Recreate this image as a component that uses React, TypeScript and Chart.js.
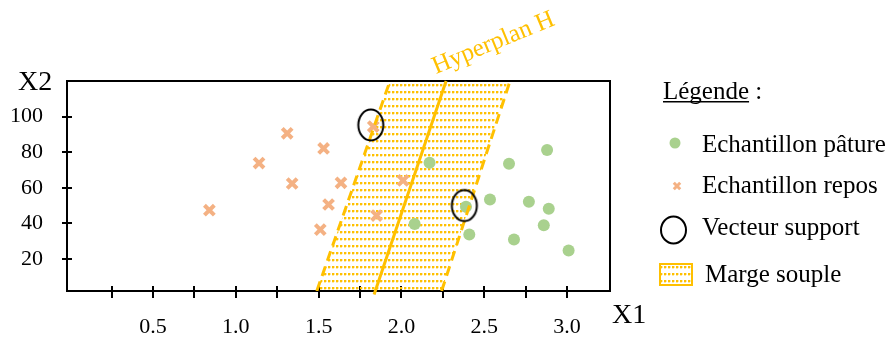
import React, { useEffect, useRef } from 'react';
import { Chart, registerables } from 'chart.js';

Chart.register(...registerables);

// ---- Data ----
const patureX = [2.17, 2.65, 2.88, 2.535, 2.77, 2.89, 2.39, 2.08, 2.41, 2.68, 2.86, 3.01];
const patureY = [74.1, 73.5, 81.2, 53.4, 52.1, 48.2, 49.3, 39.7, 33.7, 30.9, 38.9, 24.7];
const reposX = [0.84, 1.14, 1.31, 1.34, 1.53, 1.635, 1.56, 1.51, 1.83, 2.01, 1.85];
const reposY = [47.4, 73.9, 90.6, 62.4, 82.1, 62.8, 50.6, 36.5, 94.4, 64.1, 44.4];
const supportX = [1.815, 2.38];
const supportY = [95.3, 50.0];
const hyperplanX = [1.835, 2.27];
const hyperplanY = [0, 120];
const margeGaucheX = [1.489, 1.931];
const margeDroiteX = [2.243, 2.656];
const margeY = [2, 120];
const xTicks = [0.25, 0.5, 0.75, 1.0, 1.25, 1.5, 1.75, 2.0, 2.25, 2.5, 2.75, 3.0];
const xTickLabels = ['', '0.5', '', '1.0', '', '1.5', '', '2.0', '', '2.5', '', '3.0'];
const yTicks = [20, 40, 60, 80, 100];
const yTickLabels = ['20', '40', '60', '80', '100'];
const xAxisTitle = 'X1';
const yAxisTitle = 'X2';
const hyperplanLabel = 'Hyperplan H';
const legendTitle = 'Légende';
const legendLabels = ['Echantillon pâture', 'Echantillon repos', 'Vecteur support', 'Marge souple'];

const FONT = '"Liberation Serif", "Times New Roman", serif';
const GOLD = '#FFC000';
const GREEN = '#A9D18E';
const ORANGE = '#F4B183';

function makePattern(): CanvasPattern | string {
  const c = document.createElement('canvas');
  c.width = 4;
  c.height = 7;
  const g = c.getContext('2d')!;
  g.fillStyle = GOLD;
  g.fillRect(0, 0, 2, 2);
  g.globalAlpha = 0.35;
  g.fillRect(2, 0, 1, 2);
  g.fillRect(0, 2, 2, 1);
  const p = g.createPattern(c, 'repeat');
  return p || GOLD;
}

function makeEllipse(): HTMLCanvasElement {
  const c = document.createElement('canvas');
  c.width = 30;
  c.height = 36;
  const g = c.getContext('2d')!;
  g.strokeStyle = '#000';
  g.lineWidth = 2;
  g.beginPath();
  g.ellipse(15, 18, 12.5, 15.5, 0, 0, Math.PI * 2);
  g.stroke();
  return c;
}

export default function App() {
  const ref = useRef<HTMLCanvasElement>(null);

  useEffect(() => {
    document.body.style.margin = '0';
    const canvas = ref.current!;
    const pattern = makePattern();
    const ellipse = makeEllipse();

    const decor = {
      id: 'decor',
      beforeDatasetsDraw(chart: any) {
        const { ctx, chartArea } = chart;
        const xs = chart.scales.x;
        const ys = chart.scales.y;
        ctx.save();
        ctx.strokeStyle = '#000';
        ctx.lineWidth = 2;
        ctx.strokeRect(chartArea.left, chartArea.top, chartArea.right - chartArea.left, chartArea.bottom - chartArea.top);
        ctx.beginPath();
        xTicks.forEach((v) => {
          const px = Math.round(xs.getPixelForValue(v));
          ctx.moveTo(px, chartArea.bottom - 5);
          ctx.lineTo(px, chartArea.bottom + 7);
        });
        yTicks.forEach((v) => {
          const py = Math.round(ys.getPixelForValue(v));
          ctx.moveTo(chartArea.left - 5, py);
          ctx.lineTo(chartArea.left + 5, py);
        });
        ctx.stroke();
        ctx.restore();
      },
      afterDraw(chart: any) {
        const { ctx } = chart;
        ctx.save();
        ctx.fillStyle = '#000';
        ctx.textBaseline = 'alphabetic';
        ctx.textAlign = 'left';
        ctx.font = `28px ${FONT}`;
        ctx.fillText(yAxisTitle, 18, 90);
        ctx.fillText(xAxisTitle, 612, 323);

        // Hyperplan label
        ctx.save();
        ctx.translate(436, 74);
        ctx.rotate((-22.4 * Math.PI) / 180);
        ctx.fillStyle = GOLD;
        ctx.font = `25px ${FONT}`;
        ctx.fillText(hyperplanLabel, 0, 0);
        ctx.restore();

        // Legend
        ctx.font = `25px ${FONT}`;
        ctx.fillStyle = '#000';
        ctx.fillText(legendTitle, 663, 99);
        const tw = ctx.measureText(legendTitle).width;
        ctx.fillText(' :', 663 + tw, 99);
        ctx.fillRect(663, 101, tw, 1.5);

        ctx.fillText(legendLabels[0], 702, 152);
        ctx.fillText(legendLabels[1], 702, 193);
        ctx.fillText(legendLabels[2], 702, 235);
        ctx.fillText(legendLabels[3], 705, 282);

        // markers
        ctx.fillStyle = GREEN;
        ctx.beginPath();
        ctx.arc(675, 143, 5.5, 0, Math.PI * 2);
        ctx.fill();

        ctx.strokeStyle = ORANGE;
        ctx.lineWidth = 3;
        const r = 3.2;
        ctx.beginPath();
        ctx.moveTo(677 - r, 186 - r);
        ctx.lineTo(677 + r, 186 + r);
        ctx.moveTo(677 - r, 186 + r);
        ctx.lineTo(677 + r, 186 - r);
        ctx.stroke();

        ctx.strokeStyle = '#000';
        ctx.lineWidth = 2;
        ctx.beginPath();
        ctx.ellipse(673.5, 230, 12.5, 13.5, 0, 0, Math.PI * 2);
        ctx.stroke();

        ctx.fillStyle = '#fff';
        ctx.fillRect(659, 263, 34, 23);
        ctx.fillStyle = pattern as any;
        ctx.fillRect(659, 263, 34, 23);
        ctx.strokeStyle = GOLD;
        ctx.lineWidth = 2;
        ctx.strokeRect(660, 264, 32, 21);
        ctx.restore();
      },
    };

    const margePoly = [
      { x: margeGaucheX[0], y: margeY[0] },
      { x: margeGaucheX[1], y: margeY[1] },
      { x: margeDroiteX[1], y: margeY[1] },
      { x: margeDroiteX[0], y: margeY[0] },
      { x: margeGaucheX[0], y: margeY[0] },
    ];

    const chart = new Chart(canvas, {
      type: 'scatter',
      data: {
        datasets: [
          {
            type: 'line',
            label: legendLabels[3],
            data: margePoly,
            fill: 'shape',
            backgroundColor: pattern as any,
            borderWidth: 0,
            borderColor: 'rgba(0,0,0,0)',
            pointRadius: 0,
            order: 10,
          } as any,
          {
            type: 'line',
            label: 'marge gauche',
            data: margeGaucheX.map((x, i) => ({ x, y: margeY[i] })),
            borderColor: GOLD,
            borderWidth: 3,
            borderDash: [10, 6],
            pointRadius: 0,
            fill: false,
            order: 2,
          },
          {
            type: 'line',
            label: 'marge droite',
            data: margeDroiteX.map((x, i) => ({ x, y: margeY[i] })),
            borderColor: GOLD,
            borderWidth: 3,
            borderDash: [10, 6],
            pointRadius: 0,
            fill: false,
            order: 2,
          },
          {
            type: 'line',
            label: hyperplanLabel,
            data: hyperplanX.map((x, i) => ({ x, y: hyperplanY[i] })),
            borderColor: GOLD,
            borderWidth: 3,
            pointRadius: 0,
            fill: false,
            clip: false,
            order: 1,
          } as any,
          {
            label: legendLabels[0],
            data: patureX.map((x, i) => ({ x, y: patureY[i] })),
            pointStyle: 'circle',
            pointRadius: 6,
            backgroundColor: GREEN,
            borderWidth: 0,
            order: 5,
          },
          {
            label: legendLabels[1],
            data: reposX.map((x, i) => ({ x, y: reposY[i] })),
            pointStyle: 'crossRot',
            pointRadius: 7,
            borderColor: ORANGE,
            backgroundColor: ORANGE,
            borderWidth: 4,
            order: 4,
          },
          {
            label: legendLabels[2],
            data: supportX.map((x, i) => ({ x, y: supportY[i] })),
            pointStyle: ellipse as any,
            pointRadius: 15,
            order: 0,
          },
        ],
      },
      options: {
        responsive: false,
        animation: false,
        events: [],
        layout: { padding: { top: 81, right: 280, left: 0, bottom: 0 } },
        plugins: { legend: { display: false }, tooltip: { enabled: false } },
        scales: {
          x: {
            type: 'linear',
            position: 'bottom',
            min: -0.02,
            max: 3.26,
            afterBuildTicks: (s: any) => {
              s.ticks = xTicks.map((v) => ({ value: v }));
            },
            afterFit: (s: any) => {
              s.height = 49;
            },
            grid: { display: false, drawTicks: false, tickLength: 0 },
            border: { display: false },
            ticks: {
              autoSkip: false,
              maxRotation: 0,
              minRotation: 0,
              padding: 23,
              color: '#000',
              font: { family: FONT, size: 22 },
              callback: (_v: any, i: number) => xTickLabels[i] ?? '',
            },
          },
          y: {
            type: 'linear',
            position: 'left',
            min: 2,
            max: 120,
            afterBuildTicks: (s: any) => {
              s.ticks = yTicks.map((v) => ({ value: v }));
            },
            afterFit: (s: any) => {
              s.width = 67;
            },
            grid: { display: false, drawTicks: false, tickLength: 0 },
            border: { display: false },
            ticks: {
              autoSkip: false,
              padding: 24,
              color: '#000',
              font: { family: FONT, size: 22 },
              callback: (_v: any, i: number) => yTickLabels[i] ?? '',
            },
          },
        },
      },
      plugins: [decor],
    } as any);

    return () => chart.destroy();
  }, []);

  return (
    <div style={{ width: 890, height: 340 }}>
      <canvas ref={ref} width={890} height={340} style={{ display: 'block' }} />
    </div>
  );
}
